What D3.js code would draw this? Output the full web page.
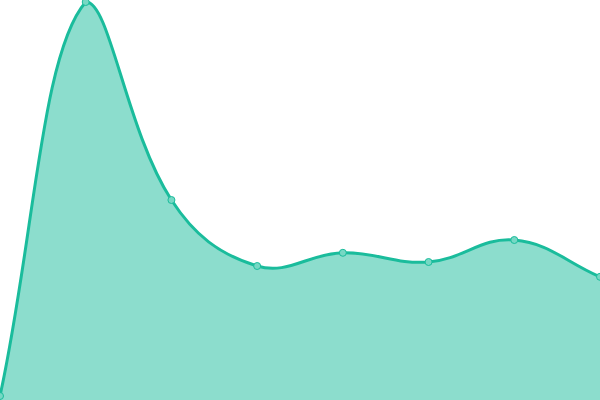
<!DOCTYPE html>
<html>
<head>
<meta charset="utf-8">
<script src="https://cdn.jsdelivr.net/npm/d3@7"></script>
<style>
html,body{margin:0;padding:0;background:#fff;overflow:hidden;}
svg{display:block;}
</style>
</head>
<body>
<svg id="chart" width="600" height="400"></svg>
<script>
const categories = ["1","2","3","4","5","6","7","8"];
const values = [1, 99.5, 50, 33.5, 36.8, 34.5, 40, 30.8];
const yMin = 0, yMax = 100;

const W = 600, H = 400;
const svg = d3.select("#chart");

const x = d3.scalePoint().domain(categories).range([0, W]);
const y = d3.scaleLinear().domain([yMin, yMax]).range([H, 0]);

// Chart.js-style spline (tension 0.4) with control points capped to chart area
function splineCurve(context) {
  const pts = [];
  return {
    areaStart(){ this._area = true; },
    areaEnd(){ this._area = false; },
    lineStart(){ pts.length = 0; },
    point(px, py){ pts.push([+px, +py]); },
    lineEnd(){
      const n = pts.length, t = 0.4;
      if (!n) return;
      const cps = pts.map((p, i) => {
        const prev = pts[Math.max(i - 1, 0)], next = pts[Math.min(i + 1, n - 1)];
        const d01 = Math.hypot(p[0]-prev[0], p[1]-prev[1]);
        const d12 = Math.hypot(next[0]-p[0], next[1]-p[1]);
        let s01 = d01/(d01+d12), s12 = d12/(d01+d12);
        if (isNaN(s01)) s01 = 0; if (isNaN(s12)) s12 = 0;
        const fa = t*s01, fb = t*s12;
        const cl = (v, lo, hi) => Math.max(lo, Math.min(hi, v));
        return {
          c1: [cl(p[0]-fa*(next[0]-prev[0]),0,W), cl(p[1]-fa*(next[1]-prev[1]),0,H)],
          c2: [cl(p[0]+fb*(next[0]-prev[0]),0,W), cl(p[1]+fb*(next[1]-prev[1]),0,H)]
        };
      });
      context.moveTo(pts[0][0], pts[0][1]);
      for (let i = 1; i < n; i++) {
        context.bezierCurveTo(cps[i-1].c2[0], cps[i-1].c2[1], cps[i].c1[0], cps[i].c1[1], pts[i][0], pts[i][1]);
      }
    }
  };
}

const data = categories.map((c, i) => ({c, v: values[i]}));

const lineGen = d3.line().x(d => x(d.c)).y(d => y(d.v)).curve(splineCurve);
const topPath = lineGen(data);
const areaPath = topPath + "L" + x(categories[categories.length-1]) + "," + y(yMin) + "L" + x(categories[0]) + "," + y(yMin) + "Z";

svg.append("path").attr("d", areaPath).attr("fill", "rgba(26,188,156,0.5)").attr("stroke", "none");
svg.append("path").attr("d", topPath).attr("fill", "none").attr("stroke", "#1abc9c").attr("stroke-width", 3);

svg.selectAll("circle.pt").data(data).enter().append("circle")
  .attr("class", "pt")
  .attr("cx", d => x(d.c)).attr("cy", d => y(d.v)).attr("r", 3.5)
  .attr("fill", "#76d8c4")
  .attr("stroke", "#1abc9c").attr("stroke-width", 1);
</script>
</body>
</html>
